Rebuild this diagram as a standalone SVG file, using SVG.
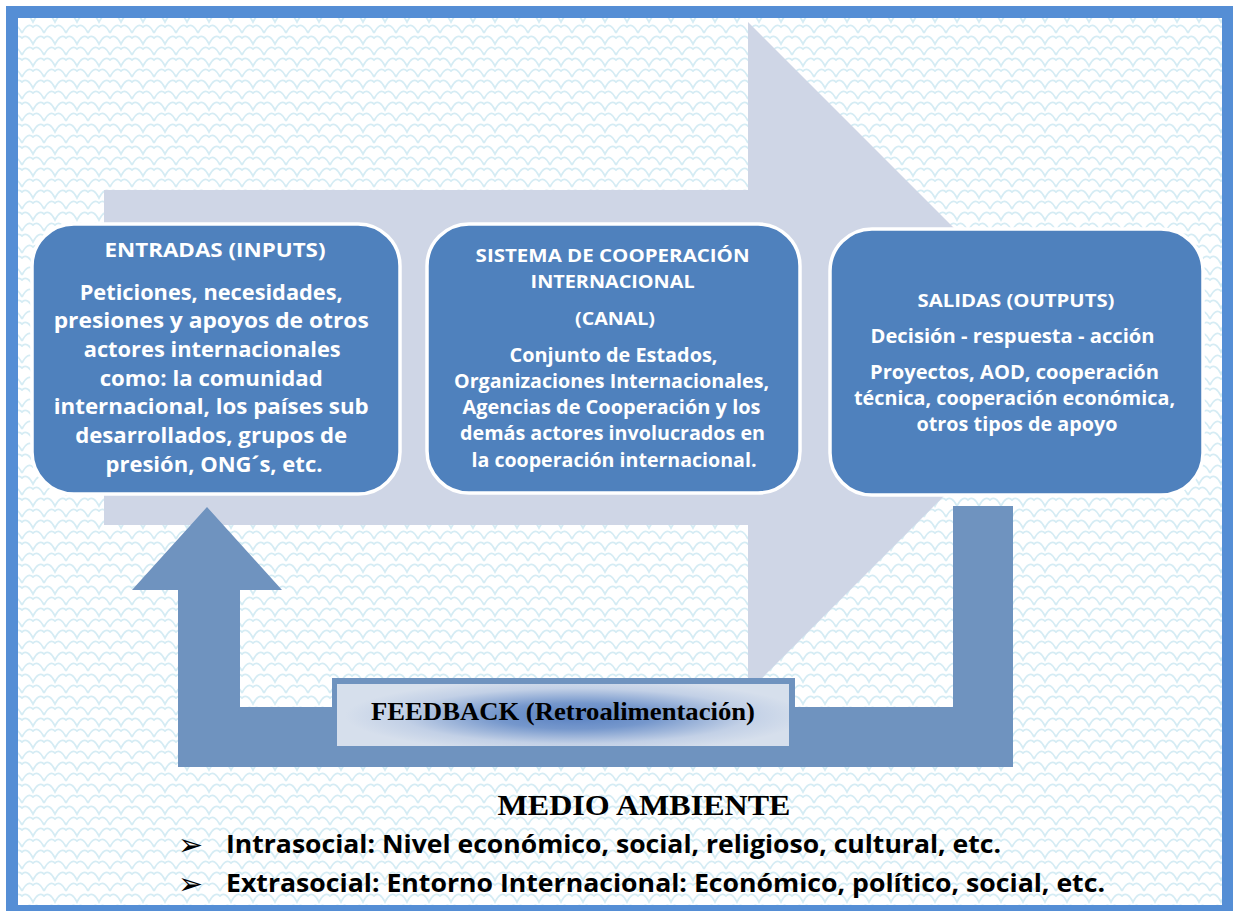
<svg xmlns="http://www.w3.org/2000/svg" width="1233" height="911" viewBox="0 0 1233 911">
<defs>
<style>
.box{fill:#4F81BD;stroke:#FFFFFF;stroke-width:3.5}
.t{font-family:"Open Sans","Liberation Sans",sans-serif;font-weight:bold;fill:#FFFFFF;text-anchor:middle}
.bl{font-family:"Open Sans","Liberation Sans",sans-serif;font-weight:bold;fill:#000000}
.fb{fill:#6F93BF}
.bul{font-family:"DejaVu Sans",sans-serif;font-size:30px;fill:#000000}
</style>
<pattern id="scales" width="22" height="22" patternUnits="userSpaceOnUse">
<path d="M0 11 Q5.5 0 11 5 Q16.5 0 22 11 M-11 0 Q-5.5 -11 0 -6 Q5.5 -11 11 0 Q16.5 -11 22 -6 M11 22 Q16.5 11 22 16 Q27.5 11 33 22 M-11 22 Q-5.5 11 0 16 Q5.5 11 11 22" fill="none" stroke="#D5ECF4" stroke-width="1.8"/>
</pattern>
<radialGradient id="fbg" gradientUnits="userSpaceOnUse" cx="575" cy="716" r="230" gradientTransform="translate(575 716) scale(1 0.16) translate(-575 -716)">
<stop offset="0" stop-color="#5A82C2"/>
<stop offset="0.35" stop-color="#7597CC"/>
<stop offset="0.75" stop-color="#C2D0E6"/>
<stop offset="1" stop-color="#D6DFEC"/>
</radialGradient>
</defs>
<rect x="0" y="0" width="1233" height="911" fill="#FFFFFF"/>
<rect x="18" y="18" width="1204" height="887" fill="url(#scales)"/>
<path d="M6 6 H1233 V911 H6 Z M18 18 V905 H1222 V18 Z" fill="#558ED5" fill-rule="evenodd"/>

<g id="main-arrow">
<path d="M104 190 H748 V22 L1083 357 L748 692 V525 H104 Z" fill="#CFD6E6"/>
</g>

<g id="connectors">
<path class="fb" d="M207 507 L282 590 H240 V707 H953 V506 H1013 V767 H178 V590 H132 Z"/>
</g>

<g id="feedback">
<rect x="332" y="678" width="463" height="74" fill="#6F93BF"/>
<rect x="337" y="684" width="452" height="62" fill="url(#fbg)"/>
<text x="563" y="720" font-family="'Liberation Serif',serif" font-weight="bold" font-size="25" text-anchor="middle" textLength="384" lengthAdjust="spacingAndGlyphs" fill="#000000">FEEDBACK (Retroalimentación)</text>
</g>

<g id="entradas">
<rect class="box" x="32" y="224" width="368" height="270" rx="42"/>
<text class="t" font-size="19">
<tspan x="215" y="257" textLength="221" lengthAdjust="spacingAndGlyphs">ENTRADAS (INPUTS)</tspan>
</text>
<text class="t" font-size="21.5">
<tspan x="214" y="300" textLength="263" lengthAdjust="spacingAndGlyphs">Peticiones, necesidades,</tspan>
<tspan x="214" y="328" textLength="315" lengthAdjust="spacingAndGlyphs">presiones  y apoyos de otros</tspan>
<tspan x="215" y="357" textLength="257" lengthAdjust="spacingAndGlyphs">actores internacionales</tspan>
<tspan x="214" y="386" textLength="223" lengthAdjust="spacingAndGlyphs">como: la comunidad</tspan>
<tspan x="214" y="414" textLength="315" lengthAdjust="spacingAndGlyphs">internacional, los países  sub</tspan>
<tspan x="214" y="443" textLength="272" lengthAdjust="spacingAndGlyphs">desarrollados, grupos de</tspan>
<tspan x="214" y="472" textLength="217" lengthAdjust="spacingAndGlyphs">presión, ONG´s, etc.</tspan>
</text>
</g>

<g id="sistema">
<rect class="box" x="427" y="224" width="373" height="269" rx="42"/>
<text class="t" font-size="18.5">
<tspan x="615" y="262" textLength="274" lengthAdjust="spacingAndGlyphs">SISTEMA DE COOPERACIÓN</tspan>
<tspan x="615" y="288" textLength="164" lengthAdjust="spacingAndGlyphs">INTERNACIONAL</tspan>
<tspan x="615" y="325" textLength="80" lengthAdjust="spacingAndGlyphs">(CANAL)</tspan>
</text>
<text class="t" font-size="19">
<tspan x="616" y="362" textLength="208" lengthAdjust="spacingAndGlyphs">Conjunto de Estados,</tspan>
<tspan x="614" y="388" textLength="315" lengthAdjust="spacingAndGlyphs">Organizaciones Internacionales,</tspan>
<tspan x="614" y="414" textLength="298" lengthAdjust="spacingAndGlyphs">Agencias de Cooperación y los</tspan>
<tspan x="615" y="440" textLength="305" lengthAdjust="spacingAndGlyphs">demás actores involucrados en</tspan>
<tspan x="614" y="467" textLength="285" lengthAdjust="spacingAndGlyphs">la cooperación internacional.</tspan>
</text>
</g>

<g id="salidas">
<rect class="box" x="830" y="229" width="373" height="266" rx="42"/>
<text class="t" font-size="18.5">
<tspan x="1016" y="307" textLength="197" lengthAdjust="spacingAndGlyphs">SALIDAS (OUTPUTS)</tspan>
</text>
<text class="t" font-size="19">
<tspan x="1015" y="343" textLength="284" lengthAdjust="spacingAndGlyphs">Decisión - respuesta - acción</tspan>
<tspan x="1017" y="379" textLength="289" lengthAdjust="spacingAndGlyphs">Proyectos, AOD, cooperación</tspan>
<tspan x="1017" y="405" textLength="321" lengthAdjust="spacingAndGlyphs">técnica, cooperación económica,</tspan>
<tspan x="1017" y="431" textLength="201" lengthAdjust="spacingAndGlyphs">otros tipos de apoyo</tspan>
</text>
</g>

<g id="medio-ambiente">
<text x="644" y="815" font-family="'Liberation Serif',serif" font-weight="bold" font-size="30" text-anchor="middle" textLength="293" lengthAdjust="spacingAndGlyphs" fill="#000000">MEDIO AMBIENTE</text>
<text class="bul" x="178" y="855">➢</text>
<text class="bl" x="226" y="853" font-size="25.5" textLength="775" lengthAdjust="spacingAndGlyphs">Intrasocial: Nivel económico, social, religioso, cultural, etc.</text>
<text class="bul" x="178" y="894">➢</text>
<text class="bl" x="226" y="892" font-size="25.5" textLength="879" lengthAdjust="spacingAndGlyphs">Extrasocial: Entorno Internacional: Económico, político, social, etc.</text>
</g>
</svg>
